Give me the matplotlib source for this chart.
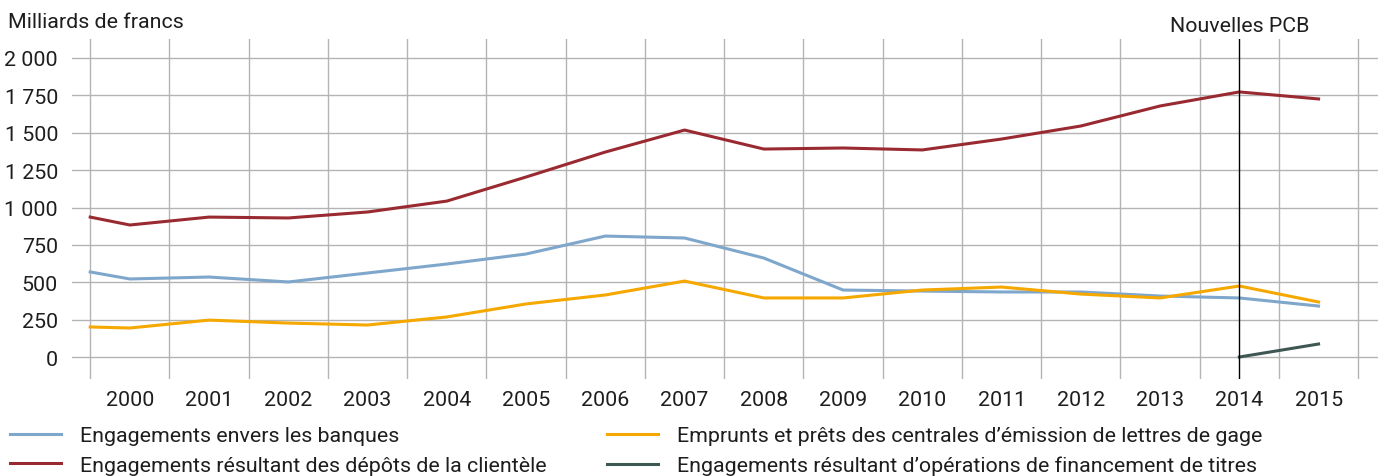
import matplotlib
matplotlib.use("Agg")
import matplotlib.pyplot as plt
import numpy as np

plt.rcParams['font.family'] = ['Roboto', 'DejaVu Sans']

# first point sits on the left edge (end of 1999), then one per year
years = [1999.5] + list(range(2000, 2016))
year_labels = [str(y) for y in range(2000, 2016)]

banques = [569, 522, 535, 502, 562, 622, 689, 809, 796, 662, 448, 441, 435, 435, 408, 395, 341]
depots = [936, 883, 936, 930, 970, 1043, 1204, 1371, 1518, 1391, 1398, 1385, 1458, 1545, 1679, 1773, 1726]
emprunts = [201, 194, 247, 227, 214, 268, 355, 415, 508, 395, 395, 448, 468, 421, 395, 475, 368]
fin_years = [2014, 2015]
financement = [0, 87]

y_ticks = [0, 250, 500, 750, 1000, 1250, 1500, 1750, 2000]
y_labels = ['0', '250', '500', '750', '1 000', '1 250', '1 500', '1 750', '2 000']

c_blue = '#7fa6cb'
c_red = '#9a2a31'
c_orange = '#f5a800'
c_dark = '#3f5753'
txt = '#1e1e1e'
fs = 15.4

fig = plt.figure(figsize=(13.84, 4.77), dpi=100)
ax = fig.add_axes([72/1384, 1 - 380/477, (1378 - 72)/1384, 340/477])

ax.set_xlim(1999.27, 2015.75)
ax.set_ylim(-147, 2127)

# grid
for gx in np.arange(1999.5, 2016, 1):
    ax.axvline(gx, color='#b4b4b4', lw=1.0, zorder=1)
for gy in y_ticks:
    ax.axhline(gy, color='#b4b4b4', lw=1.0, zorder=1)

l1, = ax.plot(years, banques, color=c_blue, lw=2.2, zorder=3)
l2, = ax.plot(years, depots, color=c_red, lw=2.2, zorder=3)
l3, = ax.plot(years, emprunts, color=c_orange, lw=2.2, zorder=3)
l4, = ax.plot(fin_years, financement, color=c_dark, lw=2.2, zorder=3)

# new accounting rules marker
ax.axvline(2014, color='black', lw=1.0, zorder=4)
ax.text(2014, 2127 + 90, 'Nouvelles PCB', ha='center', va='center', fontsize=fs, color=txt, clip_on=False)

for s in ax.spines.values():
    s.set_visible(False)
ax.set_xticks(range(2000, 2016))
ax.set_xticklabels(year_labels)
ax.set_yticks(y_ticks)
ax.set_yticklabels(y_labels)
ax.tick_params(length=0, labelsize=fs, colors=txt)
ax.tick_params(axis='x', pad=8)
ax.tick_params(axis='y', pad=10)

fig.text(8/1384, 1 - 22/477, 'Milliards de francs', fontsize=fs, va='center', ha='left', color=txt)

leg_kw = dict(loc='upper left', frameon=False, fontsize=fs, handlelength=2.4, handletextpad=0.85,
              labelspacing=0.5, borderaxespad=0, borderpad=0, labelcolor=txt)
leg1 = fig.legend([l1, l2], ['Engagements envers les banques',
                             'Engagements résultant des dépôts de la clientèle'],
                  bbox_to_anchor=(10/1384, 1 - 427/477), **leg_kw)
leg2 = fig.legend([l3, l4], ['Emprunts et prêts des centrales d\u2019émission de lettres de gage',
                             'Engagements résultant d\u2019opérations de financement de titres'],
                  bbox_to_anchor=(607/1384, 1 - 427/477), **leg_kw)

fig.savefig('out.png', dpi=100)
